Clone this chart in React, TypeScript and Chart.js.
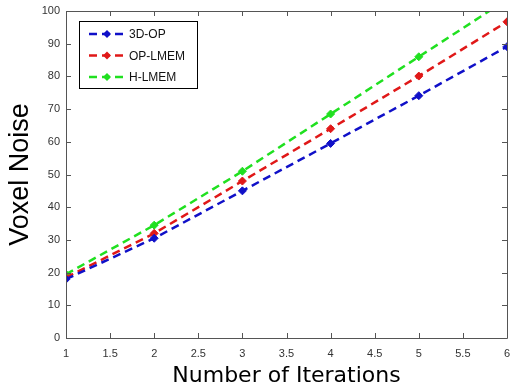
import React, { useEffect, useRef } from "react";
import { Chart, registerables } from "chart.js";

Chart.register(...registerables);

const iterations = [1, 2, 3, 4, 5, 6];
const op3d = [18, 30.5, 45, 59.5, 74.1, 89.1];
const opLmem = [18.5, 32, 48, 64, 80.1, 96.7];
const hLmem = [19.5, 34.5, 51, 68.5, 86, 103.5];
const seriesNames = ["3D-OP", "OP-LMEM", "H-LMEM"];
const seriesColors = ["#1010c8", "#e01818", "#20e020"];
const xTicks = [1, 1.5, 2, 2.5, 3, 3.5, 4, 4.5, 5, 5.5, 6];
const yTicks = [0, 10, 20, 30, 40, 50, 60, 70, 80, 90, 100];

const boxTicks = {
  id: "boxTicks",
  afterDatasetsDraw(chart: any) {
    const { ctx, chartArea: a, scales } = chart;
    ctx.save();
    ctx.strokeStyle = "#555";
    ctx.lineWidth = 1;
    ctx.beginPath();
    ctx.rect(Math.round(a.left) + 0.5, Math.round(a.top) + 0.5, Math.round(a.right - a.left), Math.round(a.bottom - a.top));
    const L = 5;
    xTicks.forEach((v) => {
      const px = Math.round(scales.x.getPixelForValue(v)) + 0.5;
      ctx.moveTo(px, a.bottom);
      ctx.lineTo(px, a.bottom - L);
      ctx.moveTo(px, a.top);
      ctx.lineTo(px, a.top + L);
    });
    yTicks.forEach((v) => {
      const py = Math.round(scales.y.getPixelForValue(v)) + 0.5;
      ctx.moveTo(a.left, py);
      ctx.lineTo(a.left + L, py);
      ctx.moveTo(a.right, py);
      ctx.lineTo(a.right - L, py);
    });
    ctx.stroke();

    // legend box
    const bx = a.left + 13, by = a.top + 10, bw = 118, bh = 67;
    ctx.fillStyle = "#fff";
    ctx.fillRect(bx, by, bw, bh);
    ctx.strokeStyle = "#000";
    ctx.strokeRect(bx + 0.5, by + 0.5, bw, bh);
    ctx.font = "12px 'Liberation Sans', Arial, sans-serif";
    ctx.textBaseline = "middle";
    seriesNames.forEach((name, i) => {
      const y = by + 13 + i * 21.5;
      const c = seriesColors[i];
      ctx.strokeStyle = c;
      ctx.lineWidth = 2.5;
      ctx.setLineDash([8, 5]);
      ctx.beginPath();
      ctx.moveTo(bx + 10, y);
      ctx.lineTo(bx + 47, y);
      ctx.stroke();
      ctx.setLineDash([]);
      ctx.fillStyle = c;
      ctx.beginPath();
      const mx = bx + 28;
      ctx.moveTo(mx, y - 4);
      ctx.lineTo(mx + 4, y);
      ctx.lineTo(mx, y + 4);
      ctx.lineTo(mx - 4, y);
      ctx.closePath();
      ctx.fill();
      ctx.fillStyle = "#111";
      ctx.fillText(name, bx + 50, y + 1);
    });
    ctx.restore();
  },
};

export default function App() {
  const ref = useRef<HTMLCanvasElement>(null);
  useEffect(() => {
    if (!ref.current) return;
    const mk = (data: number[], i: number) => ({
      label: seriesNames[i],
      data: iterations.map((x, k) => ({ x, y: data[k] })),
      borderColor: seriesColors[i],
      backgroundColor: seriesColors[i],
      borderWidth: 2.5,
      borderDash: [8, 5],
      pointStyle: "rectRot" as const,
      pointRadius: 4,
      pointBorderWidth: 1,
      tension: 0,
      clip: 0,
    });
    const tickFont = { size: 11, family: "'Liberation Sans', Arial, sans-serif" };
    const chart = new Chart(ref.current, {
      type: "line",
      data: { datasets: [mk(op3d, 0), mk(opLmem, 1), mk(hLmem, 2)] },
      plugins: [boxTicks],
      options: {
        animation: false,
        responsive: false,
        layout: { padding: { top: 11, right: 2, left: 0, bottom: 0 } },
        plugins: { legend: { display: false }, tooltip: { enabled: false } },
        scales: {
          x: {
            type: "linear",
            min: 1,
            max: 6,
            afterBuildTicks: (s: any) => { s.ticks = xTicks.map((v) => ({ value: v })); },
            afterFit: (s: any) => { s.height = 54; s.paddingRight = 0; s.paddingLeft = 0; },
            grid: { display: false, tickLength: 0 },
            border: { display: false },
            ticks: { color: "#333", font: tickFont, padding: 9, maxRotation: 0, callback: (v: any) => String(v) },
            title: { display: true, text: "Number of Iterations", color: "#000", font: { size: 22, family: "'DejaVu Sans', sans-serif" }, padding: { top: 2, bottom: 3 } },
          },
          y: {
            type: "linear",
            min: 0,
            max: 100,
            afterBuildTicks: (s: any) => { s.ticks = yTicks.map((v) => ({ value: v })); },
            afterFit: (s: any) => { s.width = 66; s.paddingTop = 0; s.paddingBottom = 0; },
            grid: { display: false, tickLength: 0 },
            border: { display: false },
            ticks: { color: "#333", font: tickFont, padding: 6, callback: (v: any) => String(v) },
            title: { display: true, text: "Voxel Noise", color: "#000", font: { size: 27, family: "'Liberation Sans', Arial, sans-serif" }, padding: { top: 4, bottom: 0 } },
          },
        },
      },
    });
    return () => chart.destroy();
  }, []);
  return (
    <div style={{ position: "absolute", left: 0, top: 0, width: 512, height: 392, background: "#fff" }}>
      <canvas ref={ref} width={512} height={392} style={{ display: "block" }} />
    </div>
  );
}
